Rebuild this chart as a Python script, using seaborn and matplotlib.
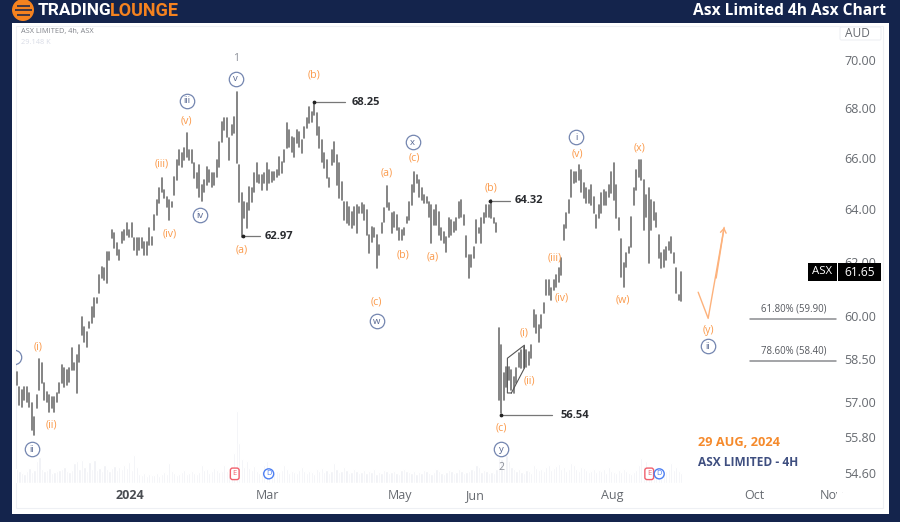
import matplotlib
matplotlib.use("Agg")
import matplotlib.pyplot as plt
from matplotlib.patches import Rectangle, Circle, FancyBboxPatch
from matplotlib.ticker import FixedLocator, FixedFormatter, NullLocator
import pandas as pd
import seaborn as sns

highs = [
    58.02,57.50,57.40,57.50,57.50,57.30,56.95,56.47,57.22,58.47,
    58.33,57.64,57.33,57.22,57.15,57.15,57.30,57.64,58.26,58.16,
    58.09,58.16,58.86,58.33,58.61,58.97,59.97,59.61,59.43,59.79,
    60.34,60.66,60.66,61.50,61.80,61.76,62.36,62.36,63.19,63.08,
    62.70,62.44,63.12,63.19,63.46,63.19,63.46,62.89,62.89,62.89,
    62.89,62.74,62.74,63.27,62.93,63.76,64.34,64.81,65.20,64.73,
    64.46,64.34,64.26,65.24,65.91,66.31,66.19,66.39,66.99,66.31,
    66.31,65.79,65.39,65.71,64.92,65.12,65.63,65.51,65.39,65.39,
    65.91,66.63,67.43,67.59,67.59,66.79,67.31,67.63,68.67,65.71,
    64.61,64.26,64.22,64.84,64.81,65.39,65.79,65.32,65.32,65.39,
    65.79,65.51,65.43,65.43,65.51,66.03,65.83,66.31,67.39,67.11,
    66.83,66.79,67.11,67.03,66.71,67.23,67.59,68.05,67.84,68.26,
    67.80,67.23,66.71,66.19,65.91,65.20,66.31,66.63,66.11,65.79,
    65.04,64.26,64.26,64.07,63.88,64.07,64.15,64.07,64.22,64.15,
    63.95,63.00,63.30,63.27,63.00,62.63,63.46,64.03,64.88,64.22,
    63.84,63.88,63.76,63.27,63.19,63.27,63.68,64.26,64.92,65.43,
    65.32,65.12,64.81,64.53,64.46,64.26,64.15,63.95,64.15,63.88,
    63.27,63.12,62.93,63.64,63.57,63.49,63.64,64.26,64.34,63.76,
    62.97,62.25,62.25,62.55,63.57,63.27,63.64,63.84,64.15,64.15,
    64.34,63.64,63.46,59.57,58.97,57.98,58.19,58.19,58.09,57.84,
    58.16,58.68,58.79,58.90,58.79,58.72,58.97,60.23,60.05,59.68,
    60.05,60.48,61.32,61.32,61.02,61.32,61.50,61.76,62.14,63.38,
    63.84,64.34,65.51,65.43,65.43,65.71,65.51,65.00,64.81,64.73,
    64.92,64.46,63.76,64.15,64.61,64.73,64.65,64.92,65.43,65.79,
    64.92,63.64,62.85,61.95,62.33,62.55,63.68,64.81,65.51,65.91,
    65.91,65.12,64.53,64.81,64.34,64.26,63.84,63.00,62.33,62.44,
    62.55,62.74,62.93,62.33,61.76,60.77,61.61,
]
lows = [
    57.57,56.88,56.81,57.05,56.98,56.81,56.03,55.86,56.78,57.40,
    57.64,57.05,56.98,56.64,56.78,56.64,56.98,57.30,57.64,57.50,
    57.57,57.67,58.09,58.09,57.30,58.37,59.32,59.08,58.90,59.57,
    59.75,59.97,60.48,60.84,61.39,61.32,61.21,62.06,62.89,62.52,
    62.25,62.06,62.70,62.82,63.00,62.93,62.93,62.44,62.25,62.44,
    62.52,62.25,62.25,62.63,62.63,63.19,63.76,64.22,64.65,64.42,
    64.07,63.57,64.07,64.53,65.12,65.71,65.63,65.91,66.03,65.91,
    65.79,65.20,64.81,64.46,64.30,64.65,64.92,65.04,64.84,64.92,
    65.24,65.63,66.63,67.11,66.83,65.91,66.91,66.99,65.79,64.26,
    62.93,63.64,63.27,63.95,64.26,64.65,65.04,65.00,64.73,65.00,
    64.73,65.00,65.04,65.12,65.24,65.32,65.39,65.83,66.39,66.43,
    66.23,66.03,66.59,66.43,66.19,66.79,67.19,67.39,67.43,67.72,
    66.91,66.39,65.83,65.59,65.20,64.84,65.71,65.83,64.92,64.42,
    64.34,63.57,63.46,63.38,63.27,63.38,63.08,63.84,63.84,63.57,
    63.00,62.33,62.74,62.93,61.76,62.25,63.08,63.49,64.07,63.95,
    63.08,63.30,63.19,62.82,62.82,63.00,63.46,63.57,64.15,64.65,
    65.00,64.46,64.34,64.22,64.22,63.68,62.70,63.38,63.38,63.00,
    62.82,62.70,62.36,62.93,63.00,63.12,63.19,63.64,63.68,63.38,
    62.17,61.39,61.80,62.14,62.70,63.08,62.70,63.46,63.68,63.68,
    63.64,63.46,63.12,57.05,56.61,57.05,57.50,57.74,57.40,57.30,
    57.64,58.19,58.16,58.16,58.19,58.26,58.51,59.61,59.39,59.08,
    59.57,60.12,60.77,60.77,60.59,60.95,61.06,61.24,61.50,62.82,
    63.27,63.84,64.46,65.00,65.04,65.12,64.65,64.42,64.22,64.22,
    64.15,63.84,63.27,63.64,63.84,64.15,64.15,64.46,64.61,64.34,
    63.64,63.19,61.43,61.06,61.80,62.33,62.55,64.15,64.73,65.24,
    65.12,63.19,63.68,61.95,63.19,63.57,63.30,62.14,61.76,61.80,
    62.06,62.44,62.33,61.95,60.84,60.59,60.55,
]
volumes = [
    14,12,10,9,12,15,11,13,22,26,
    14,12,13,15,10,11,12,13,14,16,
    12,11,13,20,22,14,23,16,12,21,
    14,23,13,15,12,18,14,12,15,17,
    13,16,14,18,15,21,13,28,16,9,
    8,10,7,9,8,8,10,7,9,11,
    9,20,12,10,8,9,11,13,9,10,
    12,10,9,11,18,13,14,10,12,15,
    13,11,12,18,12,10,11,30,72,40,
    24,16,22,15,13,17,12,10,12,18,
    22,14,11,10,12,11,13,18,14,10,
    12,11,10,13,16,12,10,12,11,9,
    14,12,15,11,13,10,12,20,14,11,
    12,16,13,10,11,14,12,10,11,13,
    10,12,11,14,9,11,10,13,12,10,
    11,12,10,9,13,14,12,11,10,12,
    9,11,10,13,12,10,9,11,14,12,
    10,9,11,13,12,10,11,14,12,10,
    11,12,14,13,18,16,11,13,12,10,
    11,10,14,26,24,15,28,22,16,14,
    12,14,11,10,13,12,10,18,15,13,
    14,12,16,18,13,15,17,19,14,16,
    12,14,20,18,14,12,16,15,13,11,
    12,14,11,13,12,14,10,16,12,11,
    10,13,11,14,12,10,9,11,13,18,
    25,17,22,16,14,13,15,12,11,10,
    12,14,20,13,16,12,10,
]

x_ticks = [45.2, 100.4, 153.2, 183.2, 238.4, 295.2, 326]
x_labels = ["2024", "Mar", "May", "Jun", "Aug", "Oct", "Nov"]
y_ticks = [70, 68, 66, 64, 62, 60, 58.5, 57, 55.8, 54.6]
y_labels = ["70.00", "68.00", "66.00", "64.00", "62.00", "60.00", "58.50", "57.00", "55.80", "54.60"]

wave_labels = [
    ("(i)", 8.4, 58.90), ("(ii)", 13.6, 56.20), ("(iii)", 58, 65.75), ("(iv)", 61.2, 63.04),
    ("(v)", 68, 67.47), ("(a)", 90, 62.44), ("(b)", 118.8, 69.37), ("(a)", 148, 65.39),
    ("(c)", 159.2, 65.99), ("(b)", 154.4, 62.25), ("(a)", 166.4, 62.17), ("(c)", 144, 60.52),
    ("(b)", 190, 64.81), ("(c)", 194, 56.10), ("(ii)", 205.2, 57.71), ("(i)", 203.2, 59.39),
    ("(iv)", 218, 60.66), ("(iii)", 215.2, 62.14), ("(v)", 224.4, 66.15), ("(w)", 242.8, 60.59),
    ("(x)", 249.2, 66.39), ("(y)", 276.8, 59.50),
]
circled_labels = [
    ("v", 87.6, 69.21), ("iii", 68, 68.30), ("iv", 73.2, 63.76), ("ii", 6, 55.40),
    ("i", -1.2, 58.55), ("w", 144, 59.83), ("x", 158.4, 66.63), ("i", 224, 66.83),
    ("y", 194, 55.39), ("ii", 276.8, 58.94),
]
degree_labels = [("1", 87.6, 70.08), ("2", 194, 54.80)]
price_notes = [
    ("68.25", 118.8, 131.2, 134, 68.25),
    ("62.97", 90.4, 97.2, 99.2, 62.97),
    ("64.32", 189.6, 197.6, 199.2, 64.32),
    ("56.54", 194, 214.4, 217.6, 56.54),
]
fib_levels = [("61.80% (59.90)", 59.90), ("78.60% (58.40)", 58.40)]
projection_x = [272.8, 276.8, 283.2]
projection_y = [60.88, 59.93, 63.30]
wedge_x = [198, 196.4, 196.4, 203.2, 203.2, 198]
wedge_y = [57.30, 57.30, 58.51, 58.97, 58.16, 57.30]
events = [("E", 87.2), ("D", 100.8), ("E", 253.2), ("D", 257.2)]

sns.set_theme(style="white")
plt.rcParams["font.family"] = ["Open Sans", "DejaVu Sans"]

NAVY = "#14244c"
ORANGE = "#fb9a4b"
CIRCLE = "#7486b0"

fig = plt.figure(figsize=(9, 5.22), dpi=100, facecolor=NAVY)

# page furniture, in pixel coordinates
bg = fig.add_axes([0, 0, 1, 1], zorder=0)
bg.set_xlim(0, 900)
bg.set_ylim(522, 0)
bg.axis("off")
bg.add_patch(Rectangle((12, 23), 877, 491, fc="white", ec="none"))
bg.add_patch(Rectangle((16, 26), 867, 482, fc="white", ec="#eef0f4", lw=0.8))
bg.add_patch(Circle((23, 10), 11, fc="#f5821f", ec="none"))
for yy, half in ((5.5, 6.5), (10, 8.5), (14.5, 6.5)):
    bg.plot([23 - half, 23 + half], [yy, yy], color=NAVY, lw=1.1, solid_capstyle="butt")
bg.text(38, 10.5, "TRADING", color="white", fontsize=12.4, fontweight="bold",
        family="Roboto", va="center", ha="left")
bg.text(110, 10.5, "LOUNGE", color="#f5821f", fontsize=13, fontweight="bold",
        family="Roboto", va="center", ha="left")
bg.text(886, 11, "Asx Limited 4h Asx Chart", color="white", fontsize=11.2, fontweight="bold",
        va="center", ha="right")

# price pane
L, R, T, B = 16, 837, 23, 483
ax = fig.add_axes([L / 900, 1 - B / 522, (R - L) / 900, (B - T) / 522], zorder=2)
ax.patch.set_alpha(0)
ax.set_yscale("log")

ohlc = pd.DataFrame({
    "bar": list(range(len(highs))) * 2,
    "price": highs + lows,
})
sns.lineplot(data=ohlc, x="bar", y="price", units="bar", estimator=None,
             color="#707070", lw=1.2, ax=ax, legend=False, zorder=3)

# volume, under the price axes
axv = ax.twinx()
axv.set_zorder(1)
axv.patch.set_alpha(0)
vol = pd.DataFrame({"bar": range(len(volumes)), "volume": volumes})
sns.barplot(data=vol, x="bar", y="volume", native_scale=True, color="#eef0f4",
            saturation=1, width=0.9, ax=axv, legend=False)
axv.set_ylim(0, B - T)
axv.axis("off")

ax.set_xlim(-0.4, 328.4)
ax.set_ylim(54.28, 71.58)
ax.set_xlabel("")
ax.set_ylabel("")
for s in ax.spines.values():
    s.set_visible(False)
ax.xaxis.set_major_locator(FixedLocator(x_ticks))
ax.xaxis.set_major_formatter(FixedFormatter(x_labels))
ax.xaxis.set_minor_locator(NullLocator())
ax.yaxis.tick_right()
ax.yaxis.set_major_locator(FixedLocator(y_ticks))
ax.yaxis.set_major_formatter(FixedFormatter(y_labels))
ax.yaxis.set_minor_locator(NullLocator())
ax.tick_params(axis="y", length=0, pad=5.5, labelsize=9, labelcolor="#666a70")
ax.tick_params(axis="x", length=0, pad=4.5, labelsize=9, labelcolor="#666a70")
xt = ax.get_xticklabels()
xt[0].set_fontweight("bold")
xt[0].set_color("#4a4d52")

for text, x, y in wave_labels:
    ax.text(x, y, text, color=ORANGE, fontsize=7.6, ha="center", va="center", zorder=6)
for text, x, y in circled_labels:
    ax.plot([x], [y], marker="o", ms=10.4, mfc="white", mec=CIRCLE, mew=0.9, zorder=5)
    ax.text(x, y, text, color="#55658f", fontsize=6.8, ha="center", va="center",
            zorder=6, clip_on=True)
for text, x, y in degree_labels:
    ax.text(x, y, text, color="#8b8f98", fontsize=7.5, ha="center", va="center", zorder=6)
for text, x0, x1, xt_, y in price_notes:
    ax.plot([x0, x1], [y, y], color="#777777", lw=0.9, zorder=4)
    ax.plot([x0], [y], marker="o", ms=1.7, color="#222222", zorder=5)
    ax.text(xt_, y, text, color="#2a2c30", fontsize=8, fontweight="bold",
            ha="left", va="center", zorder=6)
for text, y in fib_levels:
    ax.plot([293.6, 328], [y, y], color="#8a8c90", lw=1.1, zorder=4)
    ax.annotate(text, xy=(311, y), xytext=(0, 7.5), textcoords="offset points",
                color="#55585e", fontsize=6.9, ha="center", va="center", zorder=6)
ax.plot(wedge_x, wedge_y, color="#555555", lw=0.8, zorder=4)
ax.plot(projection_x, projection_y, color="#fdb27c", lw=1.0, zorder=4)
ax.annotate("", xy=(projection_x[-1], projection_y[-1]),
            xytext=(projection_x[-2] + 3.2, 61.4),
            arrowprops=dict(arrowstyle="->,head_width=0.17,head_length=0.25",
                            color="#fdb27c", lw=1.0, shrinkA=0, shrinkB=0), zorder=4)
for text, x in events:
    red = text == "E"
    col = "#f1606d" if red else "#4d7ff2"
    ax.text(x, 54.58, text, color=col, fontsize=5.4, ha="center", va="center", zorder=6,
            bbox=dict(boxstyle="round,pad=0.3" if red else "circle,pad=0.2",
                      fc="white", ec=col, lw=1))

# overlay texts and price tag
ov = fig.add_axes([0, 0, 1, 1], zorder=3)
ov.set_xlim(0, 900)
ov.set_ylim(522, 0)
ov.axis("off")
ov.add_patch(Rectangle((837, 486), 5, 16, fc="white", ec="none"))
ov.text(21, 32, "ASX LIMITED, 4h, ASX", color="#80838a", fontsize=5.3, va="center")
ov.text(21, 43, "29.148 K", color="#d9dce6", fontsize=5.3, va="center")
ov.add_patch(FancyBboxPatch((840, 27), 41, 13, boxstyle="round,pad=0,rounding_size=1.5",
                            fc="white", ec="#eef0f4", lw=0.8))
ov.text(857, 33.5, "AUD", color="#666a70", fontsize=8.6, ha="center", va="center")
ov.add_patch(Rectangle((808, 263), 29, 18, fc="black", ec="none"))
ov.add_patch(Rectangle((838, 263), 43, 18, fc="black", ec="none"))
ov.text(822.5, 272, "ASX", color="white", fontsize=8.2, ha="center", va="center")
ov.text(859.5, 272, "61.65", color="white", fontsize=8.6, ha="center", va="center")
ov.text(698, 443, "29 AUG, 2024", color="#f58a2c", fontsize=9.2, fontweight="bold", va="center")
ov.text(698, 462, "ASX LIMITED - 4H", color="#3f4f80", fontsize=8.6, fontweight="bold", va="center")

fig.savefig("out.png", dpi=100, facecolor=NAVY)
